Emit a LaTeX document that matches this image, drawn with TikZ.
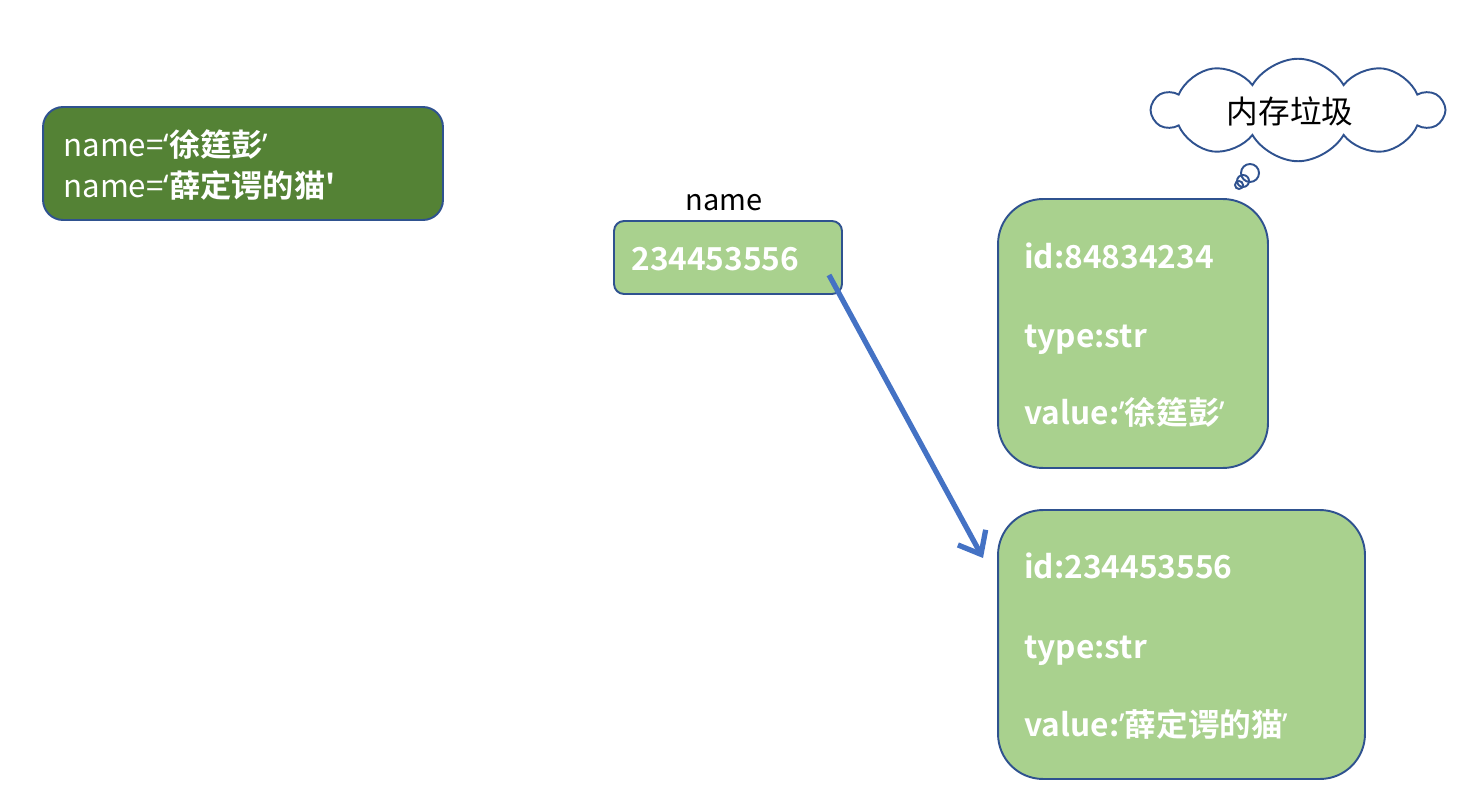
\documentclass[tikz,border=0pt]{standalone}
\usepackage{fontspec}
\newfontfamily\cjk{Noto Sans CJK SC}[BoldFont={* Bold}]
\newfontfamily\quotefont{Noto Sans}
\newcommand*\openq{{\quotefont ‘}}
\newcommand*\closeq{{\quotefont ’}}
\usetikzlibrary{arrows.meta}
\usetikzlibrary{shapes.symbols}
\definecolor{darkgreen}{HTML}{548235}
\definecolor{lightgreen}{HTML}{A9D18E}
\definecolor{edgeblue}{HTML}{2F528F}
\definecolor{arrowblue}{HTML}{4472C4}
\tikzset{
  membox/.style={draw=edgeblue,line width=1.1pt,rectangle,inner sep=0pt},
  boxtext/.style={anchor=base west,inner sep=0pt,text=white,font=\cjk\fontsize{18}{22}\selectfont\bfseries}
}

\begin{document}
\begin{tikzpicture}[x=0.02cm,y=-0.02cm]
\useasboundingbox (0,0) rectangle (1463,804);
% assignments
\node [membox,fill=darkgreen,rounded corners=0.4cm,minimum width=8cm,minimum height=2.26cm] (assign) at (243,163.5) {};
\node [boxtext,font=\cjk\fontsize{17.8}{20}\selectfont] (line1) at (63,157) {name=\textbf{\openq 徐筳彭\closeq}};
\node [boxtext,font=\cjk\fontsize{17.8}{20}\selectfont] (line2) at (63,197) {name=\textbf{\openq 薛定谔的猫'}};
% variable
\node [anchor=base,inner sep=0pt,font=\cjk\fontsize{16.5}{20}\selectfont] (varname) at (724,211) {name};
\node [membox,fill=lightgreen,rounded corners=0.2cm,minimum width=4.56cm,minimum height=1.46cm] (var) at (728,257.5) {};
\node [boxtext] (varid) at (631,270) {234453556};
% old object
\node [membox,fill=lightgreen,rounded corners=0.9cm,minimum width=5.4cm,minimum height=5.38cm] (oldobj) at (1133,333.5) {};
\node [boxtext] (oldid) at (1024,268) {id:84834234};
\node [boxtext] (oldtype) at (1024,347) {type:str};
\node [boxtext] (oldval) at (1024,424) {value:\closeq 徐筳彭\closeq};
% new object
\node [membox,fill=lightgreen,rounded corners=0.9cm,minimum width=7.34cm,minimum height=5.38cm] (newobj) at (1181.5,644.5) {};
\node [boxtext] (newid) at (1024,578) {id:234453556};
\node [boxtext] (newtype) at (1024,658) {type:str};
\node [boxtext] (newval) at (1024,736) {value:\closeq 薛定谔的猫\closeq};
% reference
\coordinate (ptr) at (829,275);
\coordinate (tgt) at (983,558);
\draw [arrowblue,line width=3pt,-{Straight Barb[length=11pt,width=18pt]}] (ptr) -- (tgt);
% garbage
\node [cloud,draw=edgeblue,line width=1.1pt,cloud puffs=10,cloud puff arc=120,aspect=2.6,minimum width=5.8cm,minimum height=2.05cm,inner sep=0pt] (garbage) at (1298,110) {};
\node [anchor=base,inner sep=0pt,font=\cjk\fontsize{18}{22}\selectfont] (garbagetext) at (1290,124) {内存垃圾};
\draw [edgeblue,line width=1.1pt,fill=white] (1250,173) circle[radius=0.18cm];
\draw [edgeblue,line width=1.1pt] (1243,181) circle[radius=0.12cm];
\draw [edgeblue,line width=1.1pt] (1239,185) circle[radius=0.08cm];
\end{tikzpicture}
\end{document}
